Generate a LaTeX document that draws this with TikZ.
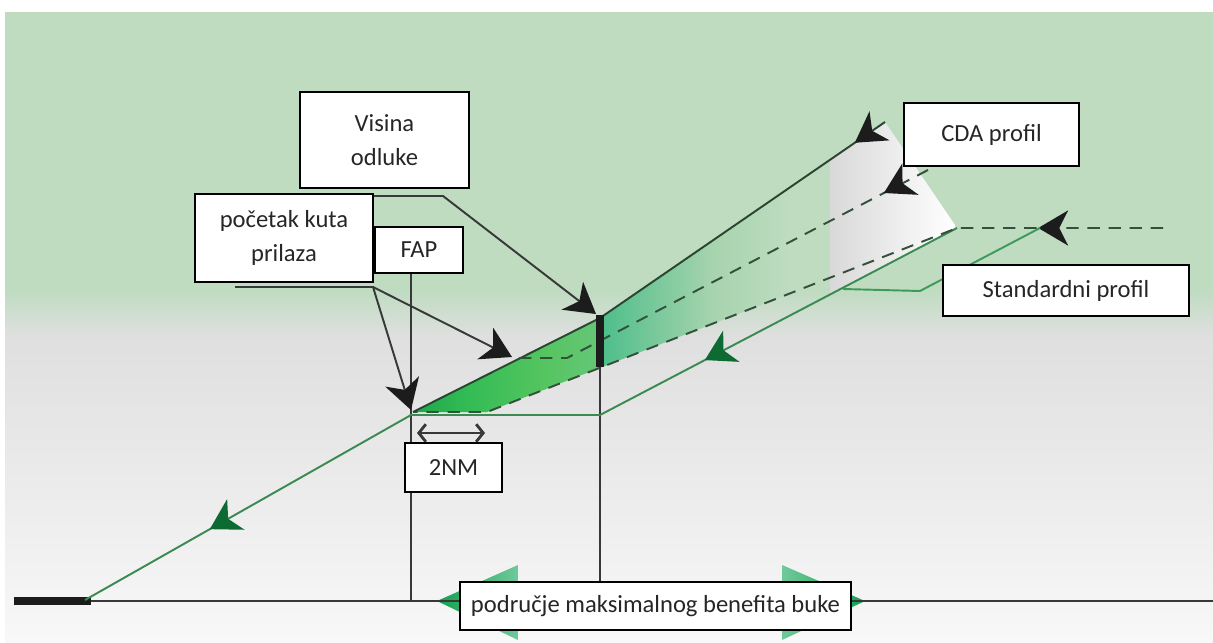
\documentclass[tikz,border=0pt]{standalone}
\usepackage{fontspec}
\setmainfont{Carlito}
\usetikzlibrary{arrows.meta, decorations.markings}
\definecolor{bggreen}{HTML}{BFDCC1}
\definecolor{bggrey}{HTML}{DEDFDE}
\definecolor{bgwhite}{HTML}{F8F8F8}
\definecolor{stdgreen}{HTML}{3A8A52}
\definecolor{leadgreen}{HTML}{3E9A5A}
\definecolor{dashdark}{HTML}{33503B}
\definecolor{cdadark}{HTML}{2A4632}
\definecolor{leadgrey}{HTML}{383838}
\definecolor{dartblack}{HTML}{1C1C1C}
\definecolor{dartgreen}{HTML}{0E6A33}
\definecolor{txtgrey}{HTML}{262626}
\definecolor{benefitdark}{HTML}{12A24E}
\definecolor{benefitlight}{HTML}{6FC99B}
\definecolor{bandA}{HTML}{1CA64A}
\definecolor{bandB}{HTML}{34BC55}
\definecolor{bandC}{HTML}{55C560}
\definecolor{bandD}{HTML}{66C678}
\definecolor{bandE}{HTML}{4CBE8A}
\definecolor{bandF}{HTML}{A6D3AD}
\tikzset{
  every picture/.style={line width=1.1pt},
  labelbox/.style={draw=black, fill=white, line width=0.9pt, align=center, inner sep=0pt,
    font=\fontsize{14}{19.5}\selectfont, text=txtgrey},
  blackdart/.tip={Stealth[length=17pt, width=20pt, inset=5pt, color=dartblack]},
  greendart/.tip={Stealth[length=17pt, width=20pt, inset=5pt, color=dartgreen]},
  flight at/.style={postaction={decorate}, decoration={markings,
    mark=at position #1 with {\arrow{blackdart}}}},
  flight green at/.style 2 args={postaction={decorate}, decoration={markings,
    mark=at position #1 with {\arrow{greendart}},
    mark=at position #2 with {\arrow{greendart}}}},
  profile dash/.style={dashdark, dash pattern=on 7pt off 5pt},
  leader/.style={leadgrey, line width=1.1pt, -{blackdart}},
  marker line/.style={leadgrey, line width=0.8pt},
}

\begin{document}
\begin{tikzpicture}[x=0.02cm, y=-0.02cm]
  \useasboundingbox (0,0) rectangle (1213,642);
  % sky and ground
  \fill[bggreen] (5,12) rectangle (1213,290);
  \shade[top color=bggreen, bottom color=bggrey] (5,290) rectangle (1213,335);
  \shade[top color=bggrey, bottom color=bgwhite] (5,335) rectangle (1213,642);

  % points of the profiles
  \coordinate (R) at (85,600);
  \coordinate (F) at (411,415);
  \coordinate (D0) at (600,415);
  \coordinate (S1) at (957,228);
  \coordinate (E) at (1163,228);
  \coordinate (U0) at (413,412);
  \coordinate (U1) at (600,318);
  \coordinate (U2) at (885,122);
  \coordinate (M0) at (513,358);
  \coordinate (M1) at (567,358);
  \coordinate (M2) at (928,170);
  \coordinate (L0) at (413,412);
  \coordinate (L1) at (487,412);
  \coordinate (W1) at (830,295);
  \coordinate (W2) at (830,278);

  % cda band
  \begin{scope}
    \clip (U0) -- (U1) -- (U2) -- (S1) -- (W1) -- (W2) -- (L1) -- cycle;
    \shade[left color=bandA, right color=bandB] (410,100) rectangle (470,420);
    \shade[left color=bandB, right color=bandC] (469,100) rectangle (545,420);
    \shade[left color=bandC, right color=bandD] (544,100) rectangle (601,420);
    \shade[left color=bandE, right color=bandF] (600,100) rectangle (711,420);
    \shade[left color=bandF, right color=bggreen] (710,100) rectangle (791,420);
    \fill[bggreen] (790,100) rectangle (831,420);
    \shade[left color=black!15, right color=white] (830,100) rectangle (955,420);
  \end{scope}

  % area of the largest noise gain
  \shade[left color=benefitdark, right color=benefitlight] (437,601) -- (518,565) -- (518,640) -- cycle;
  \shade[left color=benefitlight, right color=benefitdark] (782,565) -- (865,601) -- (782,640) -- cycle;

  % runway, ground and markers
  \coordinate (RW) at (14,597);
  \coordinate (RE) at (91,605);
  \coordinate (G0) at (91,601);
  \coordinate (G1) at (1213,601);
  \coordinate (FAPtop) at (411,273);
  \coordinate (FAPfoot) at (411,601);
  \coordinate (DHbot) at (600,367);
  \coordinate (DHtop) at (600,315);
  \coordinate (DHfoot) at (600,601);
  \fill[dartblack] (RW) rectangle (RE);
  \draw[leadgrey, line width=1pt] (G0) -- (G1);
  \draw[marker line] (FAPtop) -- (FAPfoot);
  \draw[marker line] (DHbot) -- (DHfoot);

  % standard profile
  \draw[stdgreen, line join=miter, flight green at={0.2945}{0.8516}] (S1) -- (D0) -- (F) -- (R);
  \draw[profile dash, flight at=0.159] (E) -- (S1) -- (L1) -- (L0);

  % cda profile
  \draw[cdadark, flight at=0.066] (U2) -- (U1) -- (U0);
  \draw[profile dash, flight at=0.108] (M2) -- (M1) -- (M0);

  % leaders
  \coordinate (VL0) at (300,196);
  \coordinate (VL1) at (443,196);
  \coordinate (VL2) at (596,314);
  \coordinate (PL0) at (235,287);
  \coordinate (PL1) at (373,287);
  \coordinate (PA) at (411,410);
  \coordinate (PB) at (512,357);
  \coordinate (SL0) at (843,289);
  \coordinate (SL1) at (920,291);
  \coordinate (SL2) at (1040,228);
  \draw[leader] (VL0) -- (VL1) -- (VL2);
  \draw[leader] (PL0) -- (PL1) -- (PA);
  \draw[leader] (PL1) -- (PB);
  \draw[leadgreen, line width=1.1pt] (SL0) -- (SL1) -- (SL2);

  % decision height
  \draw[dartblack, line width=4.5pt] (DHtop) -- (DHbot);

  % 2 NM
  \coordinate (NM0) at (417,433);
  \coordinate (NM1) at (485,433);
  \draw[leadgrey, line width=0.9pt, {Straight Barb[length=4pt, width=10pt, line width=1.6pt]}-{Straight Barb[length=4pt, width=10pt, line width=1.6pt]}] (NM0) -- (NM1);

  % labels
  \node[labelbox, minimum width=3.38cm, minimum height=1.92cm] (visina) at (384.5,140) {Visina\\odluke};
  \node[labelbox, minimum width=3.56cm, minimum height=1.76cm] (pocetak) at (284,238) {početak kuta\\prilaza};
  \node[labelbox, minimum width=1.76cm, minimum height=0.92cm] (fap) at (419,250) {FAP};
  \node[labelbox, minimum width=3.5cm, minimum height=1.26cm] (cda) at (991.5,134.5) {CDA profil};
  \node[labelbox, minimum width=4.92cm, minimum height=1.02cm] (standard) at (1066,290.5) {Standardni profil};
  \node[labelbox, minimum width=1.94cm, minimum height=0.98cm] (nm) at (453.5,467.5) {2NM};
  \node[labelbox, minimum width=7.82cm, minimum height=0.96cm] (podrucje) at (655.5,606) {područje maksimalnog benefita buke};
\end{tikzpicture}
\end{document}
